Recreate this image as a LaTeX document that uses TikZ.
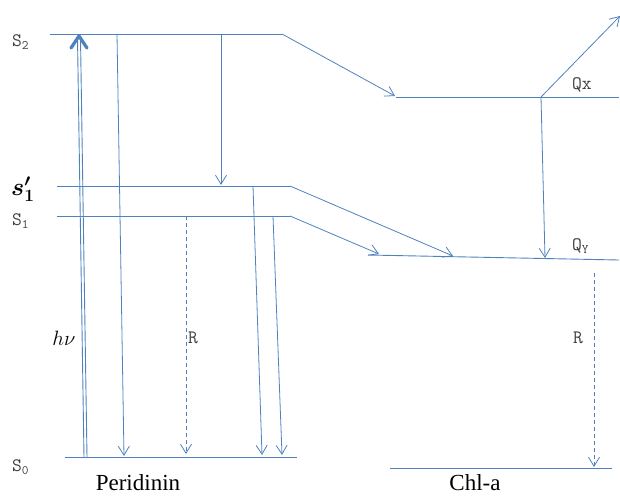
\documentclass[tikz,border=0pt]{standalone}
\usepackage{amsmath}
\usepackage{bm}
\usepackage{fontspec}
\setmainfont{Liberation Serif}
\usetikzlibrary{arrows.meta,calc}
\definecolor{lvl}{RGB}{79,129,189}
\tikzset{
  level/.style={draw=lvl, line width=0.9pt},
  trans/.style={draw=lvl, line width=0.8pt, -{Straight Barb[length=9pt,width=11pt,line width=0.8pt]}},
  relax/.style={trans, dashed, dash pattern=on 4pt off 3pt},
  lab/.style={font=\ttfamily\fontsize{19}{19}\selectfont, text=black!75, inner sep=0pt},
  molname/.style={font=\fontsize{23}{23}\selectfont, inner sep=0pt}
}
\newcommand{\levsub}[1]{\raisebox{-0.35ex}{\fontsize{13}{13}\selectfont #1}}
\begin{document}
\begin{tikzpicture}[x=1pt, y=-1pt]
\useasboundingbox (0,0) rectangle (620,495);

% ---------- Peridinin levels ----------
\coordinate (S2a) at (50,34);   \coordinate (S2b) at (282,34);
\coordinate (S1pa) at (57,186); \coordinate (S1pb) at (290,186);
\coordinate (S1a) at (57,216);  \coordinate (S1b) at (290,216);
\coordinate (S0a) at (65,457);  \coordinate (S0b) at (297,457);
\draw[level] (S2a) -- (S2b);
\draw[level] (S1pa) -- (S1pb);
\draw[level] (S1a) -- (S1b);
\draw[level] (S0a) -- (S0b);

% ---------- Chl-a levels ----------
\coordinate (Qxa) at (396,97);  \coordinate (Qxb) at (619,97);
\coordinate (Qya) at (368,255); \coordinate (Qyb) at (619,260);
\coordinate (G0a) at (390,468); \coordinate (G0b) at (612,468);
\draw[level] (Qxa) -- (Qxb);
\draw[level] (Qya) -- (Qyb);
\draw[level] (G0a) -- (G0b);

% ---------- energy transfer ----------
\coordinate (T1) at (395,96);
\coordinate (T2) at (453,256);
\coordinate (T3) at (379,254);
\draw[trans] (S2b) -- (T1);
\draw[trans] (S1pb) -- (T2);
\draw[trans] (S1b) -- (T3);

% ---------- absorption h nu ----------
\coordinate (A0) at (84,457); \coordinate (A1) at (77.5,38);
\coordinate (B0) at (87,457); \coordinate (B1) at (80.5,38);
\draw[lvl, line width=0.9pt] (A0) -- (A1);
\draw[lvl, line width=0.9pt] (B0) -- (B1);
\coordinate (Tip) at (79,36);
\draw[lvl, line width=3.2pt, line cap=round, line join=round]
  ($(Tip)+(-8,12)$) -- (Tip) -- ($(Tip)+(8,12)$);

% ---------- internal conversion / emission ----------
\coordinate (D1a) at (117,34);  \coordinate (D1b) at (124,456);
\coordinate (D2a) at (221,34);  \coordinate (D2b) at (221,185);
\coordinate (D3a) at (253,186); \coordinate (D3b) at (262,455);
\coordinate (D4a) at (273,216); \coordinate (D4b) at (282,455);
\coordinate (Ra) at (186,216);  \coordinate (Rb) at (186,454);
\draw[trans] (D1a) -- (D1b);
\draw[trans] (D2a) -- (D2b);
\draw[trans] (D3a) -- (D3b);
\draw[trans] (D4a) -- (D4b);
\draw[relax] (Ra) -- (Rb);

% ---------- Chl-a transitions ----------
\coordinate (Qx0) at (541,97);
\coordinate (Qx1) at (620,16);
\coordinate (Qy0) at (545,258);
\coordinate (RQa) at (594,273); \coordinate (RQb) at (594,467);
\draw[trans] (Qx0) -- (Qx1);
\draw[trans] (Qx0) -- (Qy0);
\draw[relax] (RQa) -- (RQb);

% ---------- labels ----------
\node[lab, anchor=west] (lS2) at (12,42) {S\levsub{2}};
\node[inner sep=0pt, anchor=west] (lS1p) at (11,189) {\fontsize{24}{24}\selectfont$\bm{s_1'}$};
\node[lab, anchor=west] (lS1) at (12,221) {S\levsub{1}};
\node[lab, anchor=west] (lS0) at (12,467) {S\levsub{0}};
\node[inner sep=0pt] (lhv) at (64,338) {\fontsize{21}{21}\selectfont$h\nu$};
\node[lab, anchor=west] (lR1) at (188,338) {R};
\node[lab, anchor=west] (lR2) at (573,338) {R};
\node[lab, anchor=west] (lQx) at (572,85) {Qx};
\node[lab, anchor=west] (lQy) at (572,246) {Q\levsub{Y}};
\node[molname, anchor=base] (per) at (138,490) {Peridinin};
\node[molname, anchor=base] (chl) at (475,490) {Chl-a};
\end{tikzpicture}
\end{document}
